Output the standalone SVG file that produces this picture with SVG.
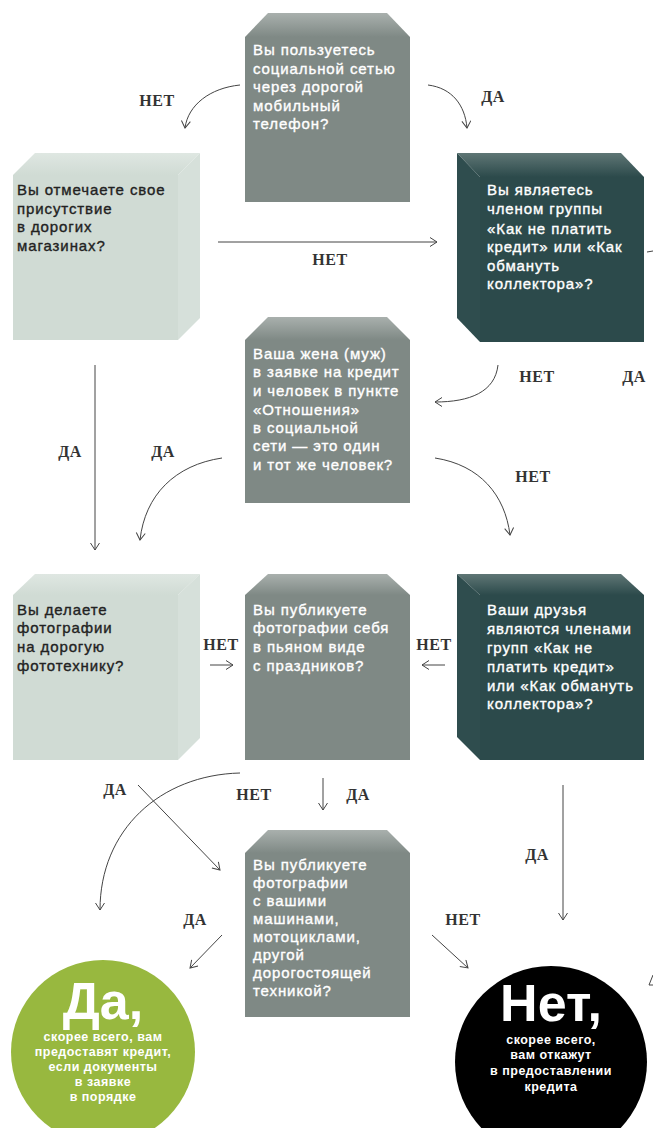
<svg xmlns="http://www.w3.org/2000/svg" width="653" height="1128" viewBox="0 0 653 1128">
<defs>
<linearGradient id="gT" x1="0" y1="0" x2="0" y2="1"><stop offset="0" stop-color="#a9b0ad"/><stop offset="1" stop-color="#7f8985"/></linearGradient>
<linearGradient id="lT" x1="0" y1="0" x2="0" y2="1"><stop offset="0" stop-color="#dfe7e2"/><stop offset="1" stop-color="#d0dbd4"/></linearGradient>
<linearGradient id="dT" x1="0" y1="0" x2="0" y2="1"><stop offset="0" stop-color="#5f7675"/><stop offset="1" stop-color="#2c4a4b"/></linearGradient>
<marker id="ah" markerWidth="12" markerHeight="12" refX="8" refY="5" orient="auto" markerUnits="userSpaceOnUse"><path d="M1,0.5 L8,5 L1,9.5" fill="none" stroke="#444" stroke-width="1"/></marker>
</defs>
<style>
.q{font-family:"Liberation Sans",Arial,sans-serif;font-size:15px;letter-spacing:0.9px;stroke-width:0.35px}
.w{fill:#fff;stroke:#fff}
.k{fill:#222;stroke:#222}
.gf{fill:#7f8985}
.lf{fill:#d0dbd4}
.ls{fill:#d6e0da}
.df{fill:#2c4a4b}
.ds{fill:#2f4d4e}
.lbl{font-family:"Liberation Serif","Times New Roman",serif;font-weight:bold;font-size:16px;letter-spacing:0.5px;fill:#333;text-anchor:middle}
.c{fill:none;stroke:#444;stroke-width:1;marker-end:url(#ah)}
.f{fill:none;stroke:#444;stroke-width:1}
.big{font-family:"Liberation Sans",Arial,sans-serif;font-weight:bold;font-size:52px;fill:#fff;text-anchor:middle}
.sm{font-family:"Liberation Sans",Arial,sans-serif;font-weight:bold;font-size:12.5px;letter-spacing:0.5px;fill:#fff;text-anchor:middle}
</style>

<g id="connectors">
<path class="c" d="M240,85 C210,88 188,105 185,128"/>
<path class="c" d="M428,85 C452,88 465,105 467,128"/>
<path class="c" d="M218,242 L437,242"/>
<path class="c" d="M498,365 C495,392 470,402 435,402"/>
<path class="c" d="M95,365 L95,550"/>
<path class="c" d="M222,458 C175,465 145,495 140,540"/>
<path class="c" d="M435,458 C480,465 505,495 510,535"/>
<path class="c" d="M210,665 L233,665"/>
<path class="c" d="M445,665 L422,665"/>
<path class="c" d="M240,773 C160,775 100,830 100,910"/>
<path class="c" d="M323,778 L323,810"/>
<path class="c" d="M138,785 L220,870"/>
<path class="c" d="M563,785 L563,920"/>
<path class="c" d="M222,935 L190,968"/>
<path class="c" d="M432,935 L468,968"/>
<path class="f" d="M647,252 L653,251"/>
<path class="f" d="M653,975 L649,985 L653,985"/>
</g>

<g id="labels">
<text class="lbl" x="157" y="106">НЕТ</text>
<text class="lbl" x="493" y="102">ДА</text>
<text class="lbl" x="330" y="265">НЕТ</text>
<text class="lbl" x="537" y="382">НЕТ</text>
<text class="lbl" x="634" y="382">ДА</text>
<text class="lbl" x="70" y="457">ДА</text>
<text class="lbl" x="163" y="457">ДА</text>
<text class="lbl" x="533" y="482">НЕТ</text>
<text class="lbl" x="221" y="650">НЕТ</text>
<text class="lbl" x="434" y="650">НЕТ</text>
<text class="lbl" x="115" y="795">ДА</text>
<text class="lbl" x="254" y="800">НЕТ</text>
<text class="lbl" x="358" y="800">ДА</text>
<text class="lbl" x="537" y="860">ДА</text>
<text class="lbl" x="195" y="925">ДА</text>
<text class="lbl" x="463" y="925">НЕТ</text>
</g>

<g id="q1">
<polygon points="245,37 268,13 387,13 410,37" fill="url(#gT)"/>
<rect class="gf" x="245" y="37" width="165" height="165"/>
<text class="q w"><tspan x="253" y="55">Вы пользуетесь</tspan><tspan x="253" y="74">социальной сетью</tspan><tspan x="253" y="92">через дорогой</tspan><tspan x="253" y="111">мобильный</tspan><tspan x="253" y="129">телефон?</tspan></text>
</g>

<g id="q2">
<polygon points="13,175 35,153 200,153 178,175" fill="url(#lT)"/>
<polygon class="ls" points="178,175 200,153 200,318 178,340"/>
<rect class="lf" x="13" y="175" width="165" height="165"/>
<text class="q k"><tspan x="17" y="195">Вы отмечаете свое</tspan><tspan x="17" y="214">присутствие</tspan><tspan x="17" y="232">в дорогих</tspan><tspan x="17" y="251">магазинах?</tspan></text>
</g>

<g id="q3">
<polygon points="457,153 621,153 644,177 480,177" fill="url(#dT)"/>
<polygon class="ds" points="457,153 480,177 480,342 457,318"/>
<rect class="df" x="480" y="177" width="164" height="165"/>
<text class="q w"><tspan x="487" y="195">Вы являетесь</tspan><tspan x="487" y="214">членом группы</tspan><tspan x="487" y="234">«Как не платить</tspan><tspan x="487" y="252">кредит» или «Как</tspan><tspan x="487" y="271">обмануть</tspan><tspan x="487" y="289">коллектора»?</tspan></text>
</g>

<g id="q4">
<polygon points="245,340 268,317 387,317 410,340" fill="url(#gT)"/>
<rect class="gf" x="245" y="340" width="165" height="163"/>
<text class="q w"><tspan x="253" y="359">Ваша жена (муж)</tspan><tspan x="253" y="377">в заявке на кредит</tspan><tspan x="253" y="396">и человек в пункте</tspan><tspan x="253" y="415">«Отношения»</tspan><tspan x="253" y="433">в социальной</tspan><tspan x="253" y="451">сети — это один</tspan><tspan x="253" y="470">и тот же человек?</tspan></text>
</g>

<g id="q5">
<polygon points="13,595 35,574 200,574 178,595" fill="url(#lT)"/>
<polygon class="ls" points="178,595 200,574 200,738 178,760"/>
<rect class="lf" x="13" y="595" width="165" height="165"/>
<text class="q k"><tspan x="17" y="615">Вы делаете</tspan><tspan x="17" y="633">фотографии</tspan><tspan x="17" y="652">на дорогую</tspan><tspan x="17" y="671">фототехнику?</tspan></text>
</g>

<g id="q6">
<polygon points="245,595 268,574 387,574 410,595" fill="url(#gT)"/>
<rect class="gf" x="245" y="595" width="165" height="165"/>
<text class="q w"><tspan x="253" y="615">Вы публикуете</tspan><tspan x="253" y="633">фотографии себя</tspan><tspan x="253" y="652">в пьяном виде</tspan><tspan x="253" y="671">с праздников?</tspan></text>
</g>

<g id="q7">
<polygon points="457,574 621,574 644,595 480,595" fill="url(#dT)"/>
<polygon class="ds" points="457,574 480,595 480,760 457,737"/>
<rect class="df" x="480" y="595" width="164" height="165"/>
<text class="q w"><tspan x="487" y="615">Ваши друзья</tspan><tspan x="487" y="634">являются членами</tspan><tspan x="487" y="653">групп «Как не</tspan><tspan x="487" y="672">платить кредит»</tspan><tspan x="487" y="691">или «Как обмануть</tspan><tspan x="487" y="709">коллектора»?</tspan></text>
</g>

<g id="q8">
<polygon points="245,853 268,830 387,830 410,853" fill="url(#gT)"/>
<rect class="gf" x="245" y="853" width="165" height="164"/>
<text class="q w"><tspan x="253" y="870">Вы публикуете</tspan><tspan x="253" y="888">фотографии</tspan><tspan x="253" y="906">с вашими</tspan><tspan x="253" y="924">машинами,</tspan><tspan x="253" y="942">мотоциклами,</tspan><tspan x="253" y="960">другой</tspan><tspan x="253" y="978">дорогостоящей</tspan><tspan x="253" y="996">техникой?</tspan></text>
</g>

<g id="yes">
<circle cx="103" cy="1052" r="92" fill="#98b83f"/>
<text class="big" x="103" y="1019">Да,</text>
<text class="sm"><tspan x="103" y="1041">скорее всего, вам</tspan><tspan x="103" y="1056">предоставят кредит,</tspan><tspan x="103" y="1071">если документы</tspan><tspan x="103" y="1086">в заявке</tspan><tspan x="103" y="1101">в порядке</tspan></text>
</g>

<g id="no">
<circle cx="551" cy="1062" r="96" fill="#000"/>
<text class="big" x="551" y="1021">Нет,</text>
<text class="sm"><tspan x="551" y="1044">скорее всего,</tspan><tspan x="551" y="1059">вам откажут</tspan><tspan x="551" y="1075">в предоставлении</tspan><tspan x="551" y="1091">кредита</tspan></text>
</g>
</svg>
